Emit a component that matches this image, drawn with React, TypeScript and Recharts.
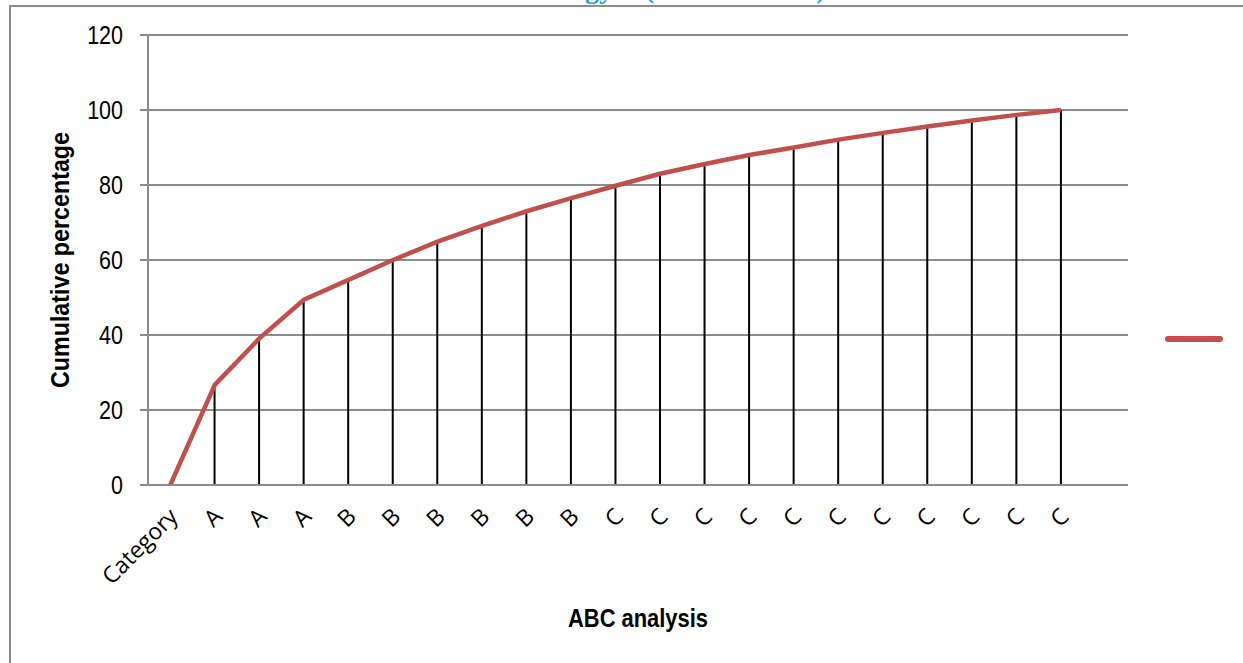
import { ComposedChart, Line, Bar, XAxis, YAxis, CartesianGrid, Legend, Label } from 'recharts';

const categories = ['Category', 'A', 'A', 'A', 'B', 'B', 'B', 'B', 'B', 'B', 'C', 'C', 'C', 'C', 'C', 'C', 'C', 'C', 'C', 'C', 'C', ''];
const cumulative = [0, 26.7, 39.1, 49.4, 54.7, 60.0, 64.9, 69.1, 73.0, 76.5, 79.8, 83.0, 85.6, 88.0, 90.0, 92.1, 93.9, 95.6, 97.2, 98.7, 100, null];
const yTicks = [0, 20, 40, 60, 80, 100, 120];

const data = categories.map((name, i) => ({ name, value: cumulative[i] }));

const GRID = '#8c8c8c';
const RED = '#C0504D';
const NARROW = '"Liberation Sans", Arial, sans-serif';

const XTick = ({ x, y, payload }: any) => (
  <g transform={`translate(${x + 9},${y + 25})`}>
    <text x={0} y={0} transform="rotate(-45)" textAnchor="end" fill="#000"
      style={{ fontFamily: '"Open Sans", sans-serif', fontSize: 23 }}>
      {payload.value}
    </text>
  </g>
);

const YTick = ({ x, y, payload }: any) => (
  <g transform={`translate(${x},${y}) scale(0.86,1)`}>
    <text x={0} y={0} textAnchor="end" dominantBaseline="central" fill="#000"
      style={{ fontFamily: NARROW, fontSize: 25 }}>
      {payload.value}
    </text>
  </g>
);

const YLabel = ({ viewBox }: any) => {
  const cx = viewBox.x + 60;
  const cy = viewBox.y + viewBox.height / 2;
  return (
    <text x={cx} y={cy} transform={`rotate(-90, ${cx}, ${cy})`} textAnchor="middle" dominantBaseline="central"
      textLength={256} lengthAdjust="spacingAndGlyphs"
      fill="#000" style={{ fontFamily: NARROW, fontSize: 26, fontWeight: 'bold' }}>
      Cumulative percentage
    </text>
  );
};

const XLabel = ({ viewBox }: any) => (
  <text x={viewBox.x + viewBox.width / 2} y={viewBox.y + 133} textAnchor="middle" dominantBaseline="central"
    textLength={140} lengthAdjust="spacingAndGlyphs"
    fill="#000" style={{ fontFamily: NARROW, fontSize: 26, fontWeight: 'bold' }}>
    ABC analysis
  </text>
);

const LegendLine = ({ payload }: any) => {
  const item = (payload || []).find((p: any) => p.dataKey === 'value' && p.type !== 'none');
  return (
    <svg width={62} height={12}>
      <line x1={5} y1={6} x2={57} y2={6} stroke={item ? item.color : RED} strokeWidth={6} strokeLinecap="round" />
    </svg>
  );
};

export default function App() {
  return (
    <div style={{ position: 'absolute', left: 0, top: 0, width: 1243, height: 663, overflow: 'hidden', background: '#fff' }}>
      <div style={{ position: 'absolute', left: 0, top: -25, width: 613, textAlign: 'right', lineHeight: 1,
        fontFamily: '"Liberation Serif", serif', fontWeight: 'bold', fontSize: 28, color: '#1E9FE3', whiteSpace: 'nowrap' }}>
        ABC Strategy
      </div>
      <div style={{ position: 'absolute', left: 645, top: -25, lineHeight: 1,
        fontFamily: '"Liberation Serif", serif', fontWeight: 'bold', fontSize: 28, color: '#1E9FE3', whiteSpace: 'nowrap' }}>
        (Pareto Model)
      </div>
      <div style={{ position: 'absolute', left: 9, top: 5, right: -10, bottom: -10, borderLeft: `2px solid ${GRID}`, borderTop: `2px solid ${GRID}` }} />
      <div style={{ position: 'absolute', left: 0, top: 0 }}>
        <ComposedChart width={1243} height={663} data={data} margin={{ top: 35, right: 115, bottom: 0, left: 0 }}>
          <CartesianGrid vertical={false} stroke={GRID} strokeWidth={2} />
          <XAxis dataKey="name" interval={0} height={178} axisLine={{ stroke: GRID, strokeWidth: 2 }} tickLine={false} tick={<XTick />}>
            <Label content={<XLabel />} />
          </XAxis>
          <YAxis domain={[0, 120]} ticks={yTicks} width={148} axisLine={{ stroke: GRID, strokeWidth: 2 }}
            tickLine={{ stroke: GRID, strokeWidth: 2 }} tickSize={8} tickMargin={17} tick={<YTick />}>
            <Label content={<YLabel />} />
          </YAxis>
          <Bar dataKey="value" barSize={2} fill="#000" legendType="none" isAnimationActive={false} />
          <Line type="linear" dataKey="value" stroke={RED} strokeWidth={4.5} dot={false} activeDot={false} isAnimationActive={false} />
          <Legend layout="horizontal" align="center" verticalAlign="middle" content={<LegendLine />}
            wrapperStyle={{ left: 1163, top: 331, width: 62, height: 12 }} />
        </ComposedChart>
      </div>
    </div>
  );
}
